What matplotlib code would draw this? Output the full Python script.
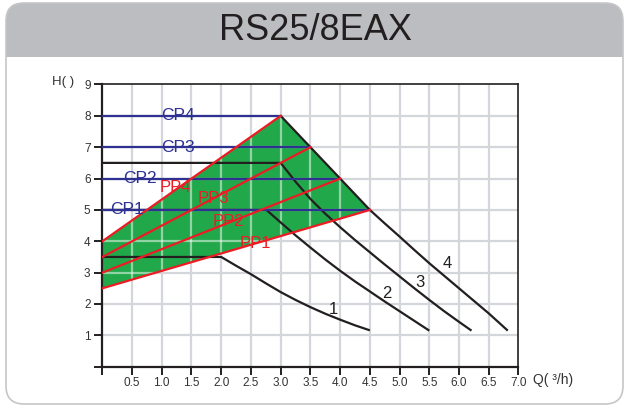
import numpy as np
import matplotlib
matplotlib.use("Agg")
import matplotlib.pyplot as plt
from matplotlib.patches import FancyBboxPatch, Rectangle, Polygon

plt.rcParams['font.family'] = ['Liberation Sans', 'DejaVu Sans']

# pump curves (Q m3/h, H m)
curve1_q = [0, 2.0, 2.25, 2.5, 2.75, 3.0, 3.25, 3.5, 3.75, 4.0, 4.25, 4.5]
curve1_h = [3.5, 3.5, 3.22, 2.95, 2.66, 2.38, 2.13, 1.9, 1.69, 1.5, 1.32, 1.16]
curve2_q = [0, 2.76, 3.0, 3.25, 3.5, 3.75, 4.0, 4.25, 4.5, 4.75, 5.0, 5.25, 5.5]
curve2_h = [5.0, 5.0, 4.6, 4.19, 3.8, 3.42, 3.06, 2.72, 2.4, 2.08, 1.77, 1.46, 1.15]
curve3_q = [0, 3.0, 3.25, 3.5, 3.75, 4.0, 4.25, 4.5, 4.75, 5.0, 5.25, 5.5, 5.75, 6.0, 6.21]
curve3_h = [6.5, 6.5, 5.9, 5.35, 4.88, 4.45, 4.04, 3.65, 3.26, 2.88, 2.5, 2.13, 1.77, 1.43, 1.15]
curve4_q = [3.0, 3.5, 4.0, 4.5, 4.75, 5.0, 5.25, 5.5, 5.75, 6.0, 6.25, 6.5, 6.82]
curve4_h = [8.0, 7.0, 6.0, 5.0, 4.57, 4.15, 3.72, 3.3, 2.9, 2.5, 2.1, 1.7, 1.15]
curve_labels = ['1', '2', '3', '4']
curve_label_q = [3.88, 4.78, 5.35, 5.8]
curve_label_h = [1.81, 2.34, 2.68, 3.28]

# constant pressure lines
cp_names = ['CP1', 'CP2', 'CP3', 'CP4']
cp_h = [5.0, 6.0, 7.0, 8.0]
cp_qmax = [4.5, 4.0, 3.5, 3.0]
cp_label_q = [0.42, 0.64, 1.28, 1.28]

# proportional pressure lines
pp_names = ['PP1', 'PP2', 'PP3', 'PP4']
pp_h0 = [2.5, 3.0, 3.5, 4.0]
pp_q1 = [4.5, 4.0, 3.5, 3.0]
pp_h1 = [5.0, 6.0, 7.0, 8.0]
pp_label_q = [2.58, 2.12, 1.87, 1.23]
pp_label_h = [3.92, 4.62, 5.38, 5.7]

# control range
area_q = [0, 0, 3.0, 4.5]
area_h = [2.5, 4.0, 8.0, 5.0]

x_ticks = [0.5, 1.0, 1.5, 2.0, 2.5, 3.0, 3.5, 4.0, 4.5, 5.0, 5.5, 6.0, 6.5, 7.0]
y_ticks = [1, 2, 3, 4, 5, 6, 7, 8, 9]

BLACK = '#231f20'
BLUE = '#2e3192'
RED = '#ed1c24'
GREEN = '#21a84a'
GRID = '#d3d6da'

fig = plt.figure(figsize=(6.3, 4.08), dpi=100)

# background frame in pixel units
bg = fig.add_axes([0, 0, 1, 1])
bg.set_xlim(0, 630)
bg.set_ylim(408, 0)
bg.axis('off')
bg.add_patch(FancyBboxPatch((6, 3), 617, 401, boxstyle="round,pad=0,rounding_size=18",
                            facecolor='white', edgecolor='none'))
bg.add_patch(FancyBboxPatch((6, 3), 617, 54, boxstyle="round,pad=0,rounding_size=16",
                            facecolor='#bcbdc0', edgecolor='none'))
bg.add_patch(Rectangle((6, 35), 617, 22, facecolor='#bcbdc0', edgecolor='none'))
bg.add_patch(FancyBboxPatch((6, 3), 617, 401, boxstyle="round,pad=0,rounding_size=18",
                            facecolor='none', edgecolor='#c6c6c8', linewidth=1.2))
bg.text(315, 31, 'RS25/8EAX', fontsize=26, color=BLACK, ha='center', va='center')
bg.text(63, 82, 'H( )', fontsize=9.5, color='#333333', ha='center', va='center')
bg.text(533, 380, 'Q( ³/h)', fontsize=10, color='#333333', ha='left', va='center')

ax = fig.add_axes([0.1624, 0.1012, 0.6606, 0.6917])
ax.set_xlim(0, 7.0)
ax.set_ylim(0, 9)

# grid
for q in x_ticks[:-1]:
    ax.axvline(q, color=GRID, lw=1.6, zorder=1)
for h in y_ticks[:-1]:
    ax.axhline(h, color=GRID, lw=1.6, zorder=1)

area = Polygon(list(zip(area_q, area_h)), closed=True, facecolor=GREEN, edgecolor='none', zorder=2)
ax.add_patch(area)
for q in x_ticks[:-1]:
    l = ax.axvline(q, color='white', lw=1.6, alpha=0.5, zorder=2.5)
    l.set_clip_path(area)
for h in y_ticks[:-1]:
    l = ax.axhline(h, color='white', lw=1.6, alpha=0.5, zorder=2.5)
    l.set_clip_path(area)

# pump curves
for q, h in [(curve1_q, curve1_h), (curve2_q, curve2_h), (curve3_q, curve3_h), (curve4_q, curve4_h)]:
    ax.plot(q, h, color=BLACK, lw=1.6, zorder=3, solid_capstyle='butt', solid_joinstyle='round')
for t, q, h in zip(curve_labels, curve_label_q, curve_label_h):
    ax.text(q, h, t, fontsize=12, color=BLACK, ha='center', va='center', zorder=6)

# CP lines
for name, h, qm, lq in zip(cp_names, cp_h, cp_qmax, cp_label_q):
    ax.plot([0, qm], [h, h], color=BLUE, lw=1.6, zorder=4)
    ax.text(lq, h, name, fontsize=12.5, color=BLUE, ha='center', va='center', zorder=6)

# PP lines
for name, h0, q1, h1, lq, lh in zip(pp_names, pp_h0, pp_q1, pp_h1, pp_label_q, pp_label_h):
    ax.plot([0, q1], [h0, h1], color=RED, lw=1.6, zorder=5)
    ax.text(lq, lh, name, fontsize=12, color=RED, ha='center', va='center', zorder=6)

for side in ['left', 'bottom']:
    ax.spines[side].set_linewidth(1.6)
    ax.spines[side].set_color(BLACK)
for side in ['top', 'right']:
    ax.spines[side].set_linewidth(1.2)
    ax.spines[side].set_color(BLACK)
    ax.spines[side].set_zorder(7)

ax.set_xticks([0] + x_ticks)
ax.set_xticklabels([''] + ['%.1f' % v for v in x_ticks])
ax.set_yticks([0] + y_ticks)
ax.set_yticklabels([''] + [str(v) for v in y_ticks])
ax.tick_params(axis='both', direction='out', length=5.5, width=1.4, color=BLACK,
               labelsize=8.5, labelcolor='#333333', pad=2)
ax.tick_params(axis='y', pad=3)

fig.savefig('out.png', dpi=100)
